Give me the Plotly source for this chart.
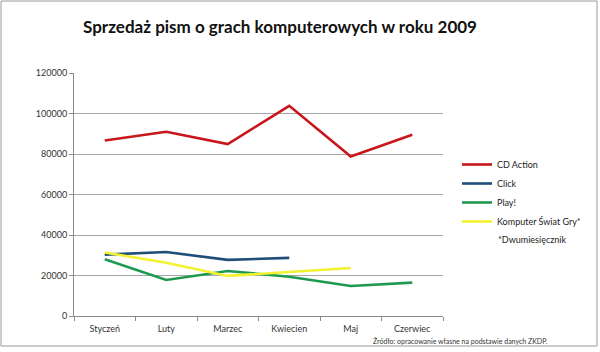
import plotly.graph_objects as go

months = ["Styczeń", "Luty", "Marzec", "Kwiecien", "Maj", "Czerwiec"]
cd_action = [86700, 91000, 84900, 103800, 78800, 89500]
click = [30300, 31600, 27700, 28700, None, None]
play = [28000, 17800, 22200, 19400, 14800, 16500]
ksg = [31400, 26300, 19800, 21900, 23700, None]

series = [
    ("CD Action", cd_action, "#C8161D"),
    ("Click", click, "#1F4E79"),
    ("Play!", play, "#1E9A50"),
    ("Komputer Świat Gry*", ksg, "#F2F230"),
]

fig = go.Figure()
for name, vals, col in series:
    fig.add_trace(go.Scatter(x=months, y=vals, name=name, mode="lines",
                             line=dict(color=col, width=2.6), connectgaps=False))

font = "Lato, 'Open Sans', sans-serif"
fig.update_layout(
    width=600, height=352,
    margin=dict(l=74, r=157, t=73, b=36, autoexpand=False),
    paper_bgcolor="white", plot_bgcolor="white",
    font=dict(family=font, size=9, color="#333333"),
    title=dict(text="<b>Sprzedaż pism o grach komputerowych w roku 2009</b>",
               x=280/600, xanchor="center", y=1-27/352, yanchor="middle",
               font=dict(family=font, size=17, color="#111111")),
    showlegend=True,
    legend=dict(x=457/600, y=1-150/352, xanchor="left", yanchor="top",
                xref="container", yref="container",
                bgcolor="rgba(0,0,0,0)", font=dict(family=font, size=9, color="#222222"),
                itemwidth=30, tracegroupgap=0),
    xaxis=dict(type="category", showgrid=False, showline=True, linecolor="#8c8c8c",
               linewidth=1, ticks="outside", tickson="boundaries", ticklen=4,
               tickcolor="#8c8c8c", range=[-0.5, 5.5], ticklabelstandoff=4,
               tickfont=dict(size=9, color="#333333")),
    yaxis=dict(range=[0, 120000], dtick=20000, showgrid=True, gridcolor="#a6a6a6",
               gridwidth=1, showline=True, linecolor="#8c8c8c", ticks="outside",
               ticklen=4, tickcolor="#8c8c8c", zeroline=False, tickformat="d",
               tickfont=dict(size=9, color="#333333")),
    shapes=[dict(type="rect", xref="paper", yref="paper", x0=-73/369, x1=(597-74)/369,
                 y0=-(346-316)/243, y1=(316-1)/243,
                 line=dict(color="#9a9a9a", width=1))],
    annotations=[
        dict(text="*Dwumiesięcznik", xref="paper", yref="paper",
             x=(496-74)/369, y=(316-239)/243, xanchor="left", yanchor="middle",
             showarrow=False, font=dict(family=font, size=9, color="#222222")),
        dict(text="Źródło: opracowanie własne na podstawie danych ZKDP.", xref="paper", yref="paper",
             x=(371-74)/369, y=(316-341)/243, xanchor="left", yanchor="middle",
             showarrow=False, font=dict(family=font, size=7, color="#333333")),
    ],
)
fig.write_html("out.html")
